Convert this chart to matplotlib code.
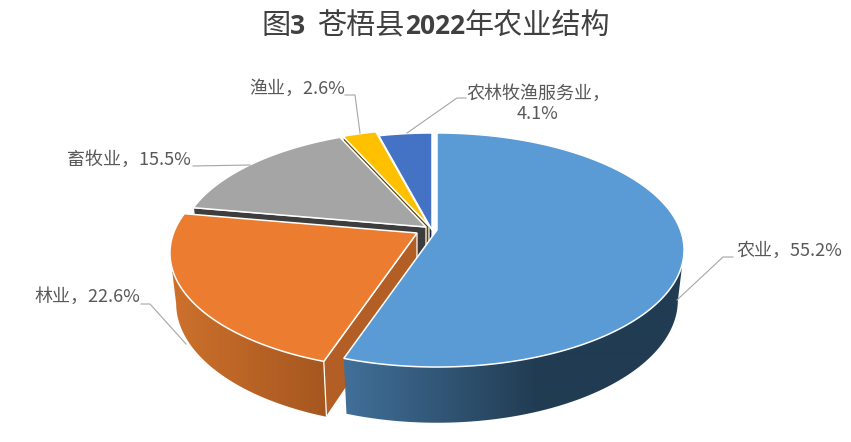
#!/usr/bin/env python3

import numpy as np
import matplotlib
matplotlib.use("Agg")
import matplotlib.pyplot as plt
from matplotlib.colors import to_rgb
from matplotlib.patches import Polygon

# data
names = ["农业", "林业", "畜牧业", "渔业", "农林牧渔服务业"]
values = [55.2, 22.6, 15.5, 2.6, 4.1]

# look
top_colors = ["#5b9bd5", "#ec7c30", "#a5a5a5", "#ffc000", "#4472c4"]
cut_colors = ["#223f56", "#b35e24", "#3d3d3d", "#5f4a00", "#14233f"]
wall_left = ["#416f98", "#cc702c", "#636363", "#997300", "#294579"]
wall_right = ["#213c52", "#a4561f", "#636363", "#997300", "#294579"]
wall_span = [190, 155, 1, 1, 1]    # px over which the wall shading runs
explode = [(5, 0), (-15, 3), (-6, -3), (-3, -4), (0, 0)]   # px, per slice
centre = (432, 230)

# perspective of the pie disc, fitted to the picture
RX, RY, PERSP, DROP, SHRINK = 243.4, 113.6, 0.171, 51, 0.025
LEADER = "#a6a6a6"
TEXT = "#595959"

plt.rcParams["font.family"] = ["Noto Sans CJK SC", "DejaVu Sans"]
fig = plt.figure(figsize=(8.51, 4.42), dpi=100)
ax = fig.add_axes([0, 0, 1, 1])
ax.axis("off")


def project(ang, r, apex, low):
    # ang in radians clockwise from the top, low=1 is the bottom face
    u = r * np.sin(ang)
    v = -r * np.cos(ang)
    w = 1 - PERSP * v + SHRINK * low
    return np.column_stack((apex[0] + RX * u / w,
                            apex[1] + (RY * v + DROP * low) / w))


edges = np.radians(np.concatenate(([0], np.cumsum(values))) * 3.6)
# the outer wall only shows where the disc rim faces the viewer
vis_a, vis_b = np.pi - np.arccos(PERSP), np.pi + np.arccos(PERSP)

# back slices first, agriculture last since it covers the orange cut face
for i in [4, 3, 2, 1, 0]:
    apex = (centre[0] + explode[i][0], centre[1] + explode[i][1])
    ang = np.linspace(edges[i], edges[i + 1], 200)
    top = project(ang, 1, apex, 0)
    mid_top = project(ang[:1], 0, apex, 0)
    mid_low = project(ang[:1], 0, apex, 1)
    base = i * -10

    # outer wall, a horizontal gradient clipped to the rim band
    a0, a1 = max(edges[i], vis_a), min(edges[i + 1], vis_b)
    if a1 > a0:
        rim = np.linspace(a0, a1, 200)
        rim_top = project(rim, 1, apex, 0)
        rim_low = project(rim, 1, apex, 1)
        band = Polygon(np.vstack((rim_top, rim_low[::-1])), fc="none", ec="none",
                       zorder=base)
        ax.add_patch(band)
        x0 = rim_low[:, 0].min()
        xs = np.arange(851)
        t = np.clip((xs - x0) / wall_span[i], 0, 1)[None, :, None]
        c0, c1 = np.array(to_rgb(wall_left[i])), np.array(to_rgb(wall_right[i]))
        img = ax.imshow(c0 + (c1 - c0) * t, extent=(0, 851, 442, 0), aspect="auto",
                        interpolation="bilinear", zorder=base + 1)
        img.set_clip_path(band)

    # cut face at the start of the slice
    ax.add_patch(Polygon([mid_top[0], top[0], project(ang[:1], 1, apex, 1)[0], mid_low[0]],
                         fc=cut_colors[i], ec="white", lw=0.9, zorder=base + 2))

    # top face
    ax.add_patch(Polygon(np.vstack((mid_top, top)), fc=top_colors[i],
                         ec="white", lw=1.1, zorder=base + 3))

ax.set_xlim(0, 851)
ax.set_ylim(442, 0)

# leader lines
ax.plot([677, 723, 733], [300, 257, 257], color=LEADER, lw=0.8, zorder=5)
ax.plot([141, 150, 186], [304, 304, 344], color=LEADER, lw=0.8, zorder=5)
ax.plot([193, 250], [166, 165], color=LEADER, lw=0.8, zorder=5)
ax.plot([345, 355, 360], [95, 95, 133], color=LEADER, lw=0.8, zorder=5)
ax.plot([407, 457, 466], [133, 98, 98], color=LEADER, lw=0.8, zorder=5)

# labels
lab = [f"{n}，{v}%" for n, v in zip(names, values)]
fs = 13
ax.text(736, 251, lab[0], fontsize=fs, color=TEXT, ha="left", va="center")
ax.text(34, 297, lab[1], fontsize=fs, color=TEXT, ha="left", va="center")
ax.text(191, 160, lab[2], fontsize=fs, color=TEXT, ha="right", va="center")
ax.text(345, 89, lab[3], fontsize=fs, color=TEXT, ha="right", va="center")
ax.text(538, 104, f"{names[4]}，\n{values[4]}%", fontsize=fs, color=TEXT,
        ha="center", va="center", linespacing=1.1)

# title, digits are bold and the Chinese is not
runs = [("图", "regular"), ("3", "bold"), ("  ", "regular"),
        ("苍梧县", "regular"), ("2022", "bold"), ("年农业结构", "regular")]
rend = fig.canvas.get_renderer()
x = 261
for s, wt in runs:
    bold = wt == "bold"
    fam = ["Open Sans", "DejaVu Sans"] if bold else ["Noto Sans CJK SC"]
    t = ax.text(x, 26, s, fontsize=19 if bold else 21, color="#404040", weight=wt,
                family=fam, ha="left", va="center")
    if s.strip():
        x = ax.transData.inverted().transform(t.get_window_extent(rend).corners())[:, 0].max()
    else:
        x += 12

fig.savefig("out.png", dpi=100, facecolor="white")
